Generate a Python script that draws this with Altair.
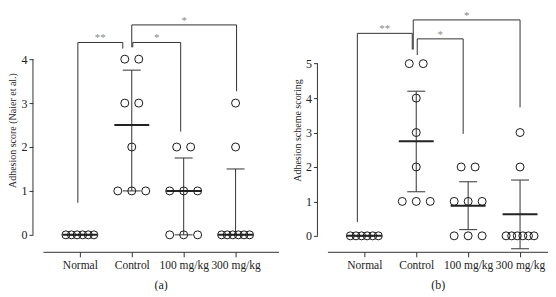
import json
import altair as alt
import pandas as pd

groups = ["Normal", "Control", "100 mg/kg", "300 mg/kg"]

# ---- panel (a): adhesion score (Naier et al.), median with IQR ----
a_normal = [0, 0, 0, 0, 0, 0]
a_control = [4, 4, 3, 3, 2, 1, 1, 1]
a_low = [2, 2, 1, 1, 1, 0, 0, 0]
a_high = [3, 2, 0, 0, 0, 0, 0, 0]
a_center = [0, 2.5, 1, 0]
a_upper = [0, 3.75, 1.75, 1.5]
a_lower = [0, 1, 0, 0]
a_ticks = [0, 1, 2, 3, 4]
# brackets: (from group, to group, left-leg bottom, right-leg bottom, top, label)
a_brackets = [
    ("Normal", "Control", 0.73, 4.24, 4.38, "**"),
    ("Control", "100 mg/kg", 4.27, 2.35, 4.38, "*"),
    ("Control", "300 mg/kg", 4.27, 3.27, 4.78, "*"),
]

# ---- panel (b): adhesion scheme scoring, mean with SD ----
b_normal = [0, 0, 0, 0, 0, 0]
b_control = [5, 5, 4, 3, 2, 1, 1, 1]
b_low = [2, 2, 1, 1, 1, 0, 0, 0]
b_high = [3, 2, 0, 0, 0, 0, 0, 0]
b_center = [0, 2.75, 0.875, 0.625]
b_upper = [0, 4.2, 1.57, 1.62]
b_lower = [0, 1.28, 0.18, -0.375]
b_ticks = [0, 1, 2, 3, 4, 5]
b_brackets = [
    ("Normal", "Control", 0.4, 5.41, 5.88, "**"),
    ("Control", "100 mg/kg", 5.25, 2.96, 5.72, "*"),
    ("Control", "300 mg/kg", 5.41, 3.73, 6.27, "*"),
]

# ---- styling / layout ----
XPX = 52.0          # pixels per category step
FONT = "Liberation Serif"
LINE = "#333333"
PT = "#1a1a1a"
STAR = "#8a8a8a"
TXT = "#222222"
a_nudge = [(-2, -9), (1, -3), (0, 1)]
b_nudge = [(-7, -4), (1, -5), (-3, 0)]


def point_frame(series):
    rows = []
    for gi, vals in enumerate(series):
        counts = {}
        for v in vals:
            counts[v] = counts.get(v, 0) + 1
        for v, k in counts.items():
            sp = min(14.0, 28.0 / (k - 1)) if k > 1 else 0.0
            for i in range(k):
                rows.append({"x": gi + (i - (k - 1) / 2) * sp / XPX, "y": v})
    return pd.DataFrame(rows)


def panel(series, center, upper, lower, ticks, brackets, nudges, ydom, width, height,
          ytitle, sub):
    xs = alt.Scale(domain=[-37 / XPX, (width - 37) / XPX], nice=False, zero=False)
    ys = alt.Scale(domain=ydom, nice=False, zero=False)
    label_expr = json.dumps(groups) + "[datum.value]"
    xa = alt.Axis(values=[0, 1, 2, 3], labelExpr=label_expr, grid=False,
                  labelOverlap=False, labelBound=False,
                  domainColor=LINE, tickColor=LINE, tickSize=5, labelPadding=3,
                  labelFont=FONT, labelFontSize=11.5, labelColor=TXT,
                  title=sub, titleFont=FONT, titleFontSize=12, titleFontWeight="normal",
                  titleColor=TXT, titlePadding=8)
    ya = alt.Axis(values=ticks, grid=False, domain=False, tickColor=LINE, tickSize=4,
                  labelPadding=2, offset=10, labelFont=FONT, labelFontSize=12,
                  labelColor=TXT, title=ytitle, titleFont=FONT, titleFontSize=10,
                  titleFontWeight="normal", titleColor=TXT, titlePadding=3)

    X = lambda f: alt.X(f, type="quantitative", scale=xs, axis=xa)
    Y = lambda f: alt.Y(f, type="quantitative", scale=ys, axis=ya)

    pts = point_frame(series)
    summ = pd.DataFrame({"x": list(range(len(groups))), "c": center, "u": upper, "l": lower})
    yline = pd.DataFrame({"y0": [ticks[0]], "y1": [ticks[-1]]})

    segs, stars = [], []
    for (ga, gb, lb, rb, top, lab), (na, nb) in zip(brackets, nudges):
        xl = groups.index(ga) + na / XPX
        xr = groups.index(gb) + nb / XPX
        segs += [
            {"x": xl, "x2": xr, "y": top, "y2": top},
            {"x": xl, "x2": xl, "y": lb, "y2": top},
            {"x": xr, "x2": xr, "y": rb, "y2": top},
        ]
        stars.append({"x": (xl + xr) / 2, "y": top, "t": lab})
    segs = pd.DataFrame(segs)
    stars = pd.DataFrame(stars)

    axis_line = alt.Chart(yline).mark_rule(color=LINE, strokeWidth=1).encode(
        x=alt.value(-10), y=Y("y0"), y2="y1")
    bars = alt.Chart(summ).mark_rule(color=LINE, strokeWidth=1).encode(
        x=X("x"), y=Y("l"), y2="u")
    cap_u = alt.Chart(summ).mark_tick(orient="horizontal", size=18, thickness=1,
                                      color=LINE, opacity=1).encode(x=X("x"), y=Y("u"))
    cap_l = alt.Chart(summ).mark_tick(orient="horizontal", size=18, thickness=1,
                                      color=LINE, opacity=1).encode(x=X("x"), y=Y("l"))
    mid = alt.Chart(summ).mark_tick(orient="horizontal", size=35, thickness=2,
                                    color=TXT, opacity=1).encode(x=X("x"), y=Y("c"))
    dots = alt.Chart(pts).mark_point(shape="circle", filled=False, size=64, color=PT,
                                     strokeWidth=1, opacity=1).encode(x=X("x"), y=Y("y"))
    brk = alt.Chart(segs).mark_rule(color=LINE, strokeWidth=1).encode(
        x=X("x"), x2="x2", y=Y("y"), y2="y2")
    txt = alt.Chart(stars).mark_text(font=FONT, fontSize=11, color=STAR,
                                     baseline="alphabetic", dy=-1).encode(
        x=X("x"), y=Y("y"), text="t:N")
    return alt.layer(axis_line, bars, cap_u, cap_l, mid, dots, brk, txt).properties(
        width=width, height=height)


H = 244
pa = panel([a_normal, a_control, a_low, a_high], a_center, a_upper, a_lower, a_ticks,
           a_brackets, a_nudge, [-17 / 44, 227 / 44], 236, H,
           "Adhesion score (Naier et al.)", "(a)")
pb = panel([b_normal, b_control, b_low, b_high], b_center, b_upper, b_lower, b_ticks,
           b_brackets, b_nudge, [-16 / 34.5, 228 / 34.5], 221, H,
           "Adhesion scheme scoring", "(b)")

chart = alt.hconcat(pa, pb, spacing=14).properties(padding=0, background="white").configure_view(
    stroke=None)

chart.save("out.html", embed_options={"renderer": "svg", "actions": False})
